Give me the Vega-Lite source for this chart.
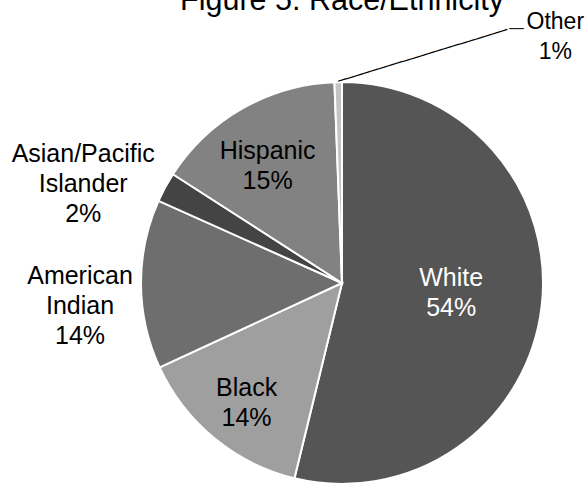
{
  "$schema": "https://vega.github.io/schema/vega-lite/v6.json",
  "width": 402,
  "height": 402,
  "autosize": {"type": "none"},
  "padding": {"left": 141, "top": 82, "right": 45, "bottom": 5},
  "background": "white",
  "title": {
    "text": "Figure 5: Race/Ethnicity",
    "frame": "group",
    "anchor": "middle",
    "offset": -42,
    "baseline": "alphabetic",
    "font": "Liberation Sans",
    "fontSize": 30.5,
    "fontWeight": "normal",
    "color": "#000000"
  },
  "config": {"view": {"stroke": null}, "text": {"font": "Liberation Sans"}},
  "data": {
    "values": [
      {"group": "White", "share": 0.538, "order": 1, "label": "White\n54%"},
      {"group": "Black", "share": 0.143, "order": 2, "label": "Black\n14%"},
      {"group": "American Indian", "share": 0.136, "order": 3, "label": "American\nIndian\n14%"},
      {"group": "Asian/Pacific Islander", "share": 0.024, "order": 4, "label": "Asian/Pacific\nIslander\n2%"},
      {"group": "Hispanic", "share": 0.153, "order": 5, "label": "Hispanic\n15%"},
      {"group": "Other", "share": 0.006, "order": 6, "label": "Other\n1%"}
    ]
  },
  "encoding": {
    "theta": {"field": "share", "type": "quantitative", "stack": true},
    "order": {"field": "order", "type": "quantitative"},
    "detail": {"field": "group", "type": "nominal"}
  },
  "layer": [
    {
      "mark": {"type": "arc", "outerRadius": 201, "stroke": "#ffffff", "strokeWidth": 2},
      "encoding": {
        "color": {
          "field": "group",
          "type": "nominal",
          "legend": null,
          "scale": {
            "domain": ["White", "Black", "American Indian", "Asian/Pacific Islander", "Hispanic", "Other"],
            "range": ["#555555", "#9f9f9f", "#6e6e6e", "#444444", "#828282", "#c4c4c4"]
          }
        }
      }
    },
    {
      "mark": {"type": "text", "radius": 110, "dy": -18, "fontSize": 25, "lineHeight": 30, "lineBreak": "\n", "align": "center", "baseline": "middle", "color": "#ffffff"},
      "encoding": {"text": {"condition": {"test": "datum.group === 'White'", "field": "label", "type": "nominal"}, "value": ""}}
    },
    {
      "mark": {"type": "text", "radius": 155, "dx": 3, "dy": -15, "fontSize": 25, "lineHeight": 30, "lineBreak": "\n", "align": "center", "baseline": "middle", "color": "#000000"},
      "encoding": {"text": {"condition": {"test": "datum.group === 'Black'", "field": "label", "type": "nominal"}, "value": ""}}
    },
    {
      "mark": {"type": "text", "radius": 138, "dx": -6, "dy": -12, "fontSize": 25, "lineHeight": 30, "lineBreak": "\n", "align": "center", "baseline": "middle", "color": "#000000"},
      "encoding": {"text": {"condition": {"test": "datum.group === 'Hispanic'", "field": "label", "type": "nominal"}, "value": ""}}
    },
    {
      "mark": {"type": "text", "radius": 262, "dy": -9, "fontSize": 25, "lineHeight": 30, "lineBreak": "\n", "align": "center", "baseline": "middle", "color": "#000000"},
      "encoding": {"text": {"condition": {"test": "datum.group === 'American Indian'", "field": "label", "type": "nominal"}, "value": ""}}
    },
    {
      "mark": {"type": "text", "radius": 275, "dx": -17, "dy": 2, "fontSize": 25, "lineHeight": 30, "lineBreak": "\n", "align": "center", "baseline": "middle", "color": "#000000"},
      "encoding": {"text": {"condition": {"test": "datum.group === 'Asian/Pacific Islander'", "field": "label", "type": "nominal"}, "value": ""}}
    },
    {
      "mark": {"type": "text", "radius": 250, "dx": 218, "dy": -11, "fontSize": 23, "lineHeight": 30, "lineBreak": "\n", "align": "center", "baseline": "middle", "color": "#000000"},
      "encoding": {"text": {"condition": {"test": "datum.group === 'Other'", "field": "label", "type": "nominal"}, "value": ""}}
    },
    {
      "mark": {"type": "text", "radius": 201, "angle": -17, "font": "DejaVu Sans Mono", "fontSize": 14, "align": "left", "baseline": "middle", "color": "#000000"},
      "encoding": {"text": {"condition": {"test": "datum.group === 'Other'", "value": "─────────────────────"}, "value": ""}}
    },
    {
      "mark": {"type": "text", "radius": 201, "dx": 171, "dy": -53, "font": "DejaVu Sans Mono", "fontSize": 12, "align": "left", "baseline": "middle", "color": "#000000"},
      "encoding": {"text": {"condition": {"test": "datum.group === 'Other'", "value": "──"}, "value": ""}}
    }
  ]
}
